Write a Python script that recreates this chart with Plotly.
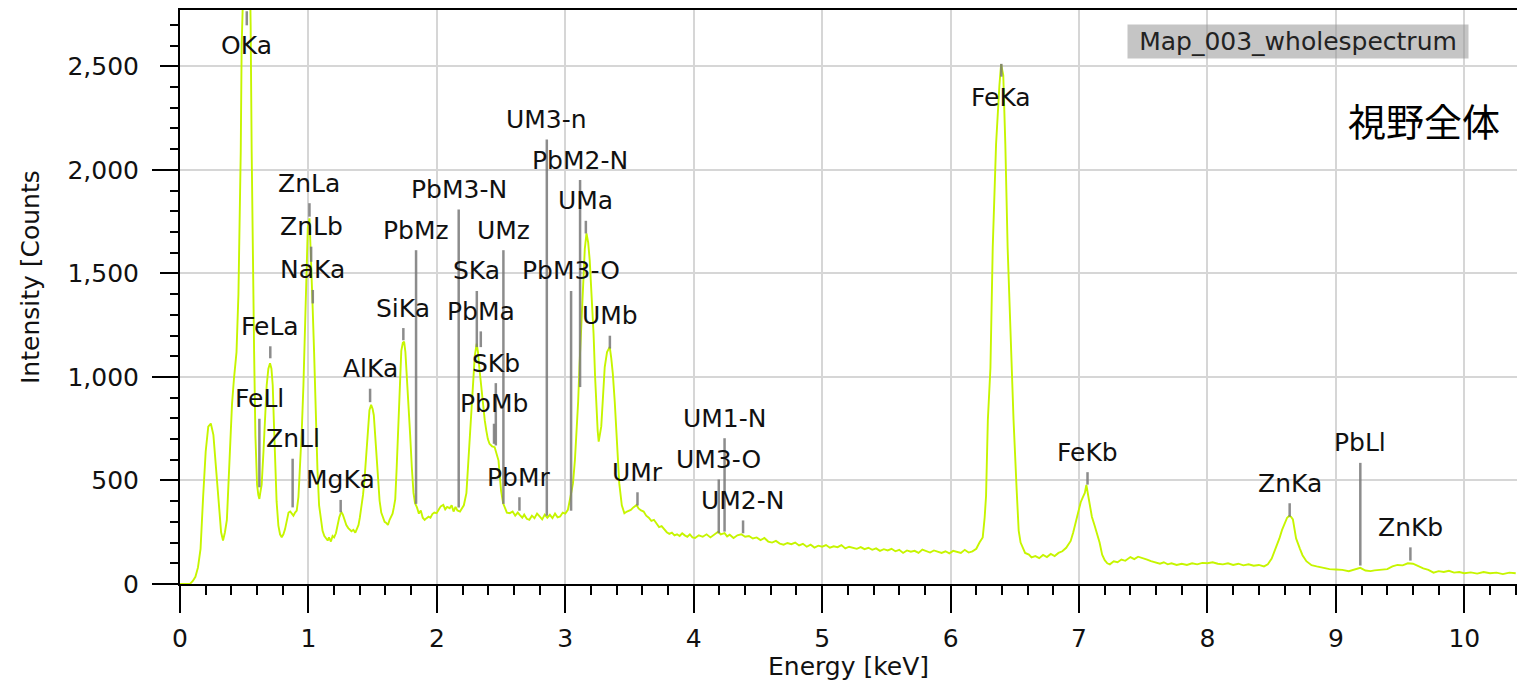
import plotly.graph_objects as go

# ---------------- data ----------------
energy_keV = [
    0.00, 0.05, 0.08, 0.10, 0.12, 0.14, 0.16, 0.18, 0.20, 0.22, 0.24, 0.26, 0.28, 0.30, 0.32, 0.335,
    0.35, 0.365, 0.38, 0.39, 0.405, 0.42, 0.44, 0.455, 0.465, 0.473, 0.48, 0.49, 0.505, 0.52, 0.535,
    0.55, 0.558, 0.566, 0.577, 0.587, 0.600, 0.610, 0.618, 0.625, 0.636, 0.650, 0.662, 0.675, 0.688,
    0.701, 0.712, 0.722, 0.731, 0.740, 0.752, 0.766, 0.779, 0.792, 0.805, 0.818, 0.830, 0.845, 0.858,
    0.870, 0.883, 0.896, 0.909, 0.922, 0.935, 0.948, 0.961, 0.972, 0.982, 0.995, 1.008, 1.018, 1.031,
    1.044, 1.057, 1.070, 1.083, 1.097, 1.110, 1.124, 1.138, 1.150, 1.160, 1.175, 1.188, 1.200, 1.214,
    1.228, 1.240, 1.250, 1.258, 1.268, 1.279, 1.295, 1.310, 1.320, 1.335, 1.350, 1.365, 1.380, 1.390,
    1.400, 1.410, 1.425, 1.436, 1.450, 1.462, 1.475, 1.488, 1.500, 1.509, 1.518, 1.527, 1.540, 1.554,
    1.567, 1.580, 1.593, 1.606, 1.619, 1.632, 1.645, 1.655, 1.665, 1.676, 1.687, 1.697, 1.710, 1.723,
    1.735, 1.745, 1.755, 1.767, 1.779, 1.792, 1.805, 1.818, 1.830, 1.845, 1.860, 1.875, 1.890, 1.905,
    1.920, 1.935, 1.950, 1.965, 1.980, 1.998, 2.015, 2.030, 2.050, 2.065, 2.080, 2.100, 2.115, 2.130,
    2.145, 2.160, 2.180, 2.195, 2.210, 2.230, 2.245, 2.255, 2.268, 2.280, 2.295, 2.310, 2.320, 2.330,
    2.345, 2.360, 2.373, 2.385, 2.397, 2.410, 2.430, 2.450, 2.465, 2.480, 2.490, 2.500, 2.516, 2.530,
    2.545, 2.568, 2.590, 2.610, 2.630, 2.645, 2.665, 2.680, 2.700, 2.720, 2.740, 2.760, 2.780, 2.800,
    2.820, 2.840, 2.860, 2.880, 2.900, 2.920, 2.940, 2.960, 2.980, 3.000, 3.020, 3.040, 3.060, 3.075,
    3.087, 3.100, 3.110, 3.125, 3.140, 3.152, 3.165, 3.178, 3.190, 3.205, 3.220, 3.232, 3.243, 3.252,
    3.260, 3.270, 3.280, 3.295, 3.307, 3.325, 3.346, 3.358, 3.370, 3.385, 3.400, 3.410, 3.420, 3.440,
    3.460, 3.480, 3.510, 3.530, 3.555, 3.570, 3.590, 3.610, 3.630, 3.650, 3.670, 3.690, 3.710, 3.730,
    3.750, 3.770, 3.790, 3.810, 3.830, 3.850, 3.870, 3.890, 3.910, 3.930, 3.950, 3.970, 3.990, 4.010,
    4.040, 4.070, 4.100, 4.130, 4.160, 4.190, 4.210, 4.240, 4.260, 4.280, 4.310, 4.340, 4.370, 4.400,
    4.430, 4.460, 4.490, 4.520, 4.550, 4.580, 4.610, 4.640, 4.670, 4.700, 4.730, 4.760, 4.790, 4.820,
    4.850, 4.880, 4.910, 4.940, 4.970, 5.000, 5.030, 5.060, 5.090, 5.120, 5.150, 5.180, 5.210, 5.240,
    5.270, 5.300, 5.330, 5.360, 5.390, 5.420, 5.450, 5.480, 5.510, 5.540, 5.570, 5.600, 5.630, 5.660,
    5.690, 5.720, 5.750, 5.780, 5.810, 5.840, 5.870, 5.900, 5.930, 5.960, 5.990, 6.020, 6.050, 6.080,
    6.110, 6.140, 6.170, 6.200, 6.225, 6.250, 6.265, 6.276, 6.290, 6.310, 6.328, 6.354, 6.380, 6.393,
    6.410, 6.426, 6.444, 6.470, 6.490, 6.514, 6.530, 6.545, 6.560, 6.580, 6.610, 6.630, 6.660, 6.690,
    6.720, 6.750, 6.780, 6.810, 6.840, 6.870, 6.900, 6.935, 6.955, 6.974, 6.995, 7.013, 7.030, 7.045,
    7.057, 7.068, 7.078, 7.090, 7.100, 7.120, 7.140, 7.160, 7.180, 7.200, 7.220, 7.240, 7.270, 7.300,
    7.330, 7.360, 7.400, 7.430, 7.460, 7.500, 7.530, 7.560, 7.600, 7.630, 7.660, 7.690, 7.720, 7.760,
    7.800, 7.840, 7.880, 7.920, 7.960, 8.000, 8.040, 8.080, 8.120, 8.160, 8.200, 8.240, 8.280, 8.320,
    8.360, 8.400, 8.440, 8.470, 8.500, 8.530, 8.560, 8.580, 8.600, 8.620, 8.635, 8.650, 8.665, 8.680,
    8.690, 8.720, 8.740, 8.770, 8.810, 8.850, 8.900, 8.950, 9.000, 9.050, 9.100, 9.150, 9.190, 9.230,
    9.270, 9.300, 9.350, 9.400, 9.440, 9.480, 9.520, 9.560, 9.600, 9.640, 9.680, 9.720, 9.760, 9.800,
    9.840, 9.880, 9.920, 9.960, 10.000, 10.050, 10.100, 10.150, 10.200, 10.250, 10.300, 10.350, 10.400,
]
counts = [
    0, 0, 2, 15, 35, 80, 170, 420, 640, 760, 775, 720, 560, 390, 250, 210,
    250, 310, 520, 720, 870, 990, 1120, 1400, 1700, 2090, 2600, 3000, 3400, 3500, 3350,
    2700, 2090, 1605, 1121, 718, 480, 430, 411, 440, 480, 640, 798, 960, 1040,
    1066, 1040, 960, 780, 556, 400, 282, 240, 226, 240, 265, 300, 345, 350,
    340, 330, 345, 355, 420, 556, 740, 960, 1200, 1444, 1720, 1766, 1620, 1370,
    1121, 798, 556, 380, 300, 257, 232, 222, 210, 225, 205, 232, 225, 245,
    290, 322, 340, 346, 335, 312, 285, 270, 265, 255, 262, 248, 270, 285,
    320, 360, 430, 500, 640, 760, 840, 865, 845, 815, 740, 660, 520, 402,
    345, 320, 300, 295, 285, 310, 330, 340, 370, 410, 560, 700, 930, 1126,
    1165, 1170, 1120, 1000, 885, 720, 564, 440, 390, 370, 340, 355, 320, 310,
    318, 325, 320, 338, 345, 342, 360, 375, 382, 360, 372, 366, 380, 350,
    372, 355, 350, 362, 380, 439, 600, 729, 870, 1000, 1100, 1161, 1120, 1048,
    950, 854, 790, 741, 700, 677, 665, 661, 630, 596, 520, 450, 390, 370,
    345, 342, 350, 330, 345, 334, 320, 335, 315, 310, 330, 318, 340, 326,
    312, 335, 320, 334, 318, 340, 322, 326, 345, 340, 358, 420, 487, 600,
    729, 880, 1048, 1250, 1454, 1620, 1693, 1650, 1564, 1400, 1209, 1000, 809, 740,
    688, 720, 761, 920, 1048, 1120, 1145, 1090, 1016, 880, 729, 600, 487, 380,
    342, 350, 358, 370, 382, 365, 355, 350, 330, 320, 305, 310, 290, 275,
    280, 262, 250, 242, 248, 235, 240, 232, 245, 235, 228, 240, 225, 222,
    235, 228, 240, 225, 238, 252, 240, 246, 230, 238, 222, 235, 240, 228,
    232, 220, 225, 212, 222, 205, 200, 208, 195, 190, 198, 192, 200, 186,
    194, 180, 190, 176, 185, 180, 188, 175, 182, 178, 188, 172, 180, 176,
    170, 178, 168, 175, 165, 172, 160, 168, 162, 170, 158, 165, 150, 162,
    156, 160, 150, 166, 158, 152, 162, 155, 150, 158, 148, 160, 155, 150,
    165, 152, 158, 170, 200, 225, 320, 425, 792, 1042, 1625, 2125, 2408, 2510,
    2458, 2125, 1625, 1125, 792, 458, 258, 200, 175, 150, 142, 128, 135, 125,
    140, 130, 145, 135, 150, 158, 175, 208, 250, 300, 360, 395, 420, 440,
    478, 440, 410, 360, 325, 285, 242, 200, 142, 115, 100, 95, 110, 105,
    118, 112, 130, 120, 132, 125, 118, 110, 105, 98, 105, 95, 100, 92,
    98, 92, 100, 95, 102, 100, 105, 98, 95, 100, 92, 98, 90, 95,
    88, 92, 85, 95, 123, 170, 220, 260, 295, 320, 328, 325, 312, 260,
    220, 170, 139, 110, 91, 85, 78, 72, 70, 68, 62, 70, 78, 65,
    62, 66, 70, 72, 85, 92, 90, 100, 98, 85, 75, 68, 55, 62,
    58, 64, 55, 58, 52, 56, 50, 58, 52, 55, 48, 55, 52,
]

# element line markers: label, energy (keV), marker bottom and top (counts)
peak_labels = ["OKa", "FeLl", "FeLa", "ZnLl", "ZnLa", "ZnLb", "NaKa", "MgKa", "AlKa", "SiKa",
               "PbMz", "PbM3-N", "SKa", "PbMa", "SKb", "PbMb", "UMz", "PbMr", "UM3-n", "PbM3-O",
               "PbM2-N", "UMa", "UMb", "UMr", "UM3-O", "UM1-N", "UM2-N", "FeKa", "FeKb", "ZnKa",
               "PbLl", "ZnKb"]
peak_energy = [0.520, 0.618, 0.703, 0.877, 1.008, 1.021, 1.034, 1.251, 1.480, 1.739,
               1.838, 2.170, 2.311, 2.342, 2.459, 2.445, 2.518, 2.643, 2.856, 3.045,
               3.115, 3.160, 3.347, 3.562, 4.195, 4.240, 4.384, 6.395, 7.066, 8.640,
               9.190, 9.580]
peak_bottom = [2698, 467, 1090, 370, 1774, 1556, 1355, 346, 878, 1177,
               387, 370, 1144, 1144, 669, 677, 387, 354, 330, 354,
               951, 1693, 1137, 379, 245, 253, 245, 2450, 480, 325,
               89, 113]
peak_top = [2766, 798, 1148, 605, 1839, 1629, 1420, 406, 943, 1236,
            1612, 1809, 1415, 1220, 970, 774, 1612, 419, 2147, 1415,
            1951, 1754, 1199, 443, 505, 704, 307, 2512, 540, 390,
            585, 177]

x_range = [0, 10.41]
y_range = [0, 2772]
spectrum_name = "Map_003_wholespectrum"
panel_title = "視野全体"
x_title = "Energy [keV]"
y_title = "Intensity [Counts"

FONT = "DejaVu Sans, Verdana, sans-serif"
FS = 25

# ---------------- figure ----------------
fig = go.Figure()
fig.add_trace(go.Scatter(
    x=energy_keV, y=counts, mode="lines",
    line=dict(color="#c6f500", width=1.9),
    hoverinfo="skip", showlegend=False, xaxis="x", yaxis="y",
))

mx, my = [], []
for e, b, t in zip(peak_energy, peak_bottom, peak_top):
    mx += [e, e, None]
    my += [b, t, None]
fig.add_trace(go.Scatter(
    x=mx, y=my, mode="lines",
    line=dict(color="rgba(120,120,120,0.85)", width=2.5),
    hoverinfo="skip", showlegend=False, xaxis="x", yaxis="y2",
))

annotations = []
for lab, e, t in zip(peak_labels, peak_energy, peak_top):
    below = t > 0.88 * y_range[1]
    annotations.append(dict(
        x=e, y=t, xref="x", yref="y", text=lab, showarrow=False,
        xanchor="center", yanchor="middle", yshift=-34 if below else 20,
        font=dict(family=FONT, size=FS, color="#111"),
    ))

annotations.append(dict(
    x=(1298 - 180) / 1337, y=(584 - 41.5) / 574, xref="paper", yref="paper",
    text=spectrum_name, showarrow=False, xanchor="center", yanchor="middle",
    bgcolor="rgba(150,150,150,0.55)", width=336, height=29, borderpad=2,
    font=dict(family=FONT, size=FS, color="#222"),
))
annotations.append(dict(
    x=(1424 - 180) / 1337, y=(584 - 120) / 574, xref="paper", yref="paper",
    text=panel_title, showarrow=False, xanchor="center", yanchor="middle",
    font=dict(family="Noto Sans CJK JP", size=38, color="#000"),
))
annotations.append(dict(
    x=0.5, y=0, xref="paper", yref="paper", yshift=-82,
    text=x_title, showarrow=False, xanchor="center", yanchor="middle",
    font=dict(family=FONT, size=FS, color="#111"),
))
annotations.append(dict(
    x=0, y=(584 - 277) / 574, xref="paper", yref="paper", xshift=-150,
    text=y_title, showarrow=False, xanchor="center", yanchor="middle", textangle=-90,
    font=dict(family=FONT, size=FS, color="#111"),
))

fig.update_layout(
    width=1517, height=686,
    margin=dict(l=180, r=0, t=10, b=102, pad=0),
    plot_bgcolor="white", paper_bgcolor="white",
    font=dict(family=FONT, size=FS, color="#111"),
    annotations=annotations,
    xaxis=dict(
        range=x_range, tickmode="linear", tick0=0, dtick=1,
        ticks="outside", ticklen=27, tickwidth=2, tickcolor="black",
        showline=True, linewidth=2, linecolor="black", mirror=True,
        showgrid=True, gridcolor="#d6d6d6", gridwidth=2, zeroline=False,
        tickfont=dict(family=FONT, size=FS, color="#111"), ticklabelstandoff=4,
        minor=dict(dtick=0.2, tick0=0, ticks="outside", ticklen=9, tickwidth=2,
                   tickcolor="black", showgrid=False),
    ),
    yaxis=dict(
        range=y_range, tickmode="linear", tick0=0, dtick=500, tickformat=",d",
        ticks="outside", ticklen=18, tickwidth=2, tickcolor="black",
        showline=True, linewidth=2, linecolor="black",
        showgrid=True, gridcolor="#d6d6d6", gridwidth=2, zeroline=False,
        tickfont=dict(family=FONT, size=FS, color="#111"), ticklabelstandoff=16,
        minor=dict(dtick=100, tick0=0, ticks="outside", ticklen=8, tickwidth=2,
                   tickcolor="black", showgrid=False),
    ),
    yaxis2=dict(
        range=y_range, overlaying="y", anchor="x", side="left",
        tickmode="array", tickvals=[0, 1000, 2000], showticklabels=False,
        ticks="outside", ticklen=27, tickwidth=2, tickcolor="black",
        showline=False, showgrid=False, zeroline=False,
    ),
)

fig.write_html(
    "out.html",
    config={"displayModeBar": False},
    post_script="document.body.style.margin='0';document.body.style.overflow='hidden';",
)
